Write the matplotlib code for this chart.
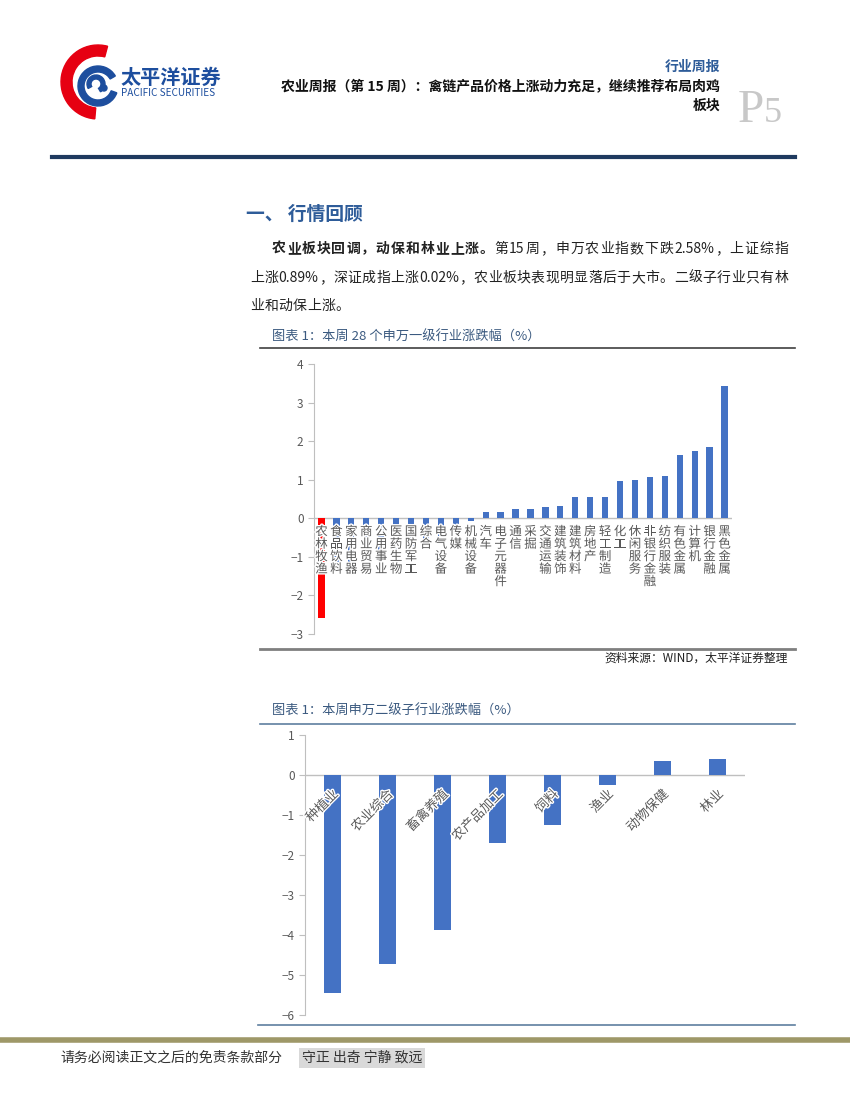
import matplotlib
matplotlib.use('Agg')
import matplotlib.pyplot as plt
from matplotlib.patches import Wedge, Circle
import matplotlib.patheffects as pe

plt.rcParams['font.family'] = ['Noto Sans CJK SC', 'DejaVu Sans']

# chart 1: 28 first-level SW industries, weekly change (%)
INDUSTRIES = ['农林牧渔', '食品饮料', '家用电器', '商业贸易', '公用事业', '医药生物',
              '国防军工', '综合', '电气设备', '传媒', '机械设备', '汽车', '电子元器件',
              '通信', '采掘', '交通运输', '建筑装饰', '建筑材料', '房地产', '轻工制造',
              '化工', '休闲服务', '非银行金融', '纺织服装', '有色金属', '计算机',
              '银行金融', '黑色金属']
CHANGES = [-2.58, -1.38, -1.25, -1.02, -0.95, -0.80, -0.72, -0.55, -0.45, -0.17,
           -0.06, 0.17, 0.17, 0.23, 0.23, 0.28, 0.33, 0.54, 0.54, 0.54,
           0.96, 0.98, 1.06, 1.09, 1.63, 1.74, 1.84, 3.42]

# chart 2: agriculture sub-industries, weekly change (%)
SUB_INDUSTRIES = ['种植业', '农业综合', '畜禽养殖', '农产品加工', '饲料', '渔业', '动物保健', '林业']
SUB_CHANGES = [-5.46, -4.73, -3.87, -1.69, -1.26, -0.25, 0.34, 0.39]

BLUE = '#4472C4'
RED = '#FF0000'
GREY_TXT = '#595959'
AXIS_GREY = '#BFBFBF'
TITLE_BLUE = '#3B5A80'

fig = plt.figure(figsize=(8.5, 11), dpi=100)

# page layer in pixel coordinates
page = fig.add_axes([0, 0, 1, 1])
page.set_xlim(0, 850)
page.set_ylim(1100, 0)
page.axis('off')

# ---- header ----
page.add_patch(Wedge((98, 82), 37, 95, 285, width=11, color='#E60012'))
page.add_patch(Wedge((98, 86), 20, 20, 330, width=6, color='#1D4E9E'))
page.add_patch(Wedge((96, 84), 9, 150, 420, width=4, color='#1D4E9E'))
page.add_patch(Circle((104, 88), 3, color='#1D4E9E'))
page.text(120, 77, '太平洋证券', fontsize=14.5, fontweight='bold', color='#1D4E9E', va='center')
page.text(121, 93, 'PACIFIC SECURITIES', fontsize=7.2, color='#1D4E9E', va='center')

page.text(720, 67, '行业周报', fontsize=10, fontweight='bold', color='#2E5C99', ha='right', va='center')
page.text(720, 87, '农业周报（第 15 周）：禽链产品价格上涨动力充足，继续推荐布局肉鸡',
          fontsize=10, fontweight='bold', color='#111111', ha='right', va='center')
page.text(720, 106, '板块', fontsize=10, fontweight='bold', color='#111111', ha='right', va='center')
page.text(738, 122, 'P', fontsize=34, family='Liberation Serif', color='#C8C8C8', va='baseline')
page.text(764, 122, '5', fontsize=26, family='Liberation Serif', color='#C8C8C8', va='baseline')
page.plot([52, 795], [157, 157], color='#1F3A5F', lw=3)

# ---- section text ----
page.text(246, 214, '一、 行情回顾', fontsize=13.5, fontweight='bold', color='#2E5C99', va='center')

renderer = fig.canvas.get_renderer()


def place_line(x0, x1, y, parts, gap=None):
    tokens = []
    for text, weight in parts:
        buf = ''
        for ch in text:
            if ord(ch) < 128:
                buf += ch
            else:
                if buf:
                    tokens.append((buf, weight))
                    buf = ''
                tokens.append((ch, weight))
        if buf:
            tokens.append((buf, weight))
    arts = [page.text(0, y, t, fontsize=10, fontweight=w, color='#222222', va='center')
            for t, w in tokens]
    widths = [a.get_window_extent(renderer).width for a in arts]
    if gap is None:
        gap = (x1 - x0 - sum(widths)) / (len(arts) - 1)
    x = x0
    for a, w in zip(arts, widths):
        a.set_x(x)
        x += w + gap
    return gap


place_line(272, 788, 249, [('农业板块回调，动保和林业上涨。', 'bold'),
                           ('第15周，申万农业指数下跌2.58%，上证综指', 'normal')])
g = place_line(250, 788, 278, [('上涨0.89%，深证成指上涨0.02%，农业板块表现明显落后于大市。二级子行业只有林', 'normal')])
place_line(250, None, 306, [('业和动保上涨。', 'normal')], gap=g)

# ---- chart 1 frame ----
page.text(272, 337, '图表 1：本周 28 个申万一级行业涨跌幅（%）', fontsize=9.5, color=TITLE_BLUE, va='center')
page.plot([260, 795], [348, 348], color='#404040', lw=1.2)
page.plot([260, 795], [649, 649], color='#7F7F7F', lw=2)
page.text(788, 658, '资料来源：WIND，太平洋证券整理', fontsize=8.5, style='italic',
          color='#222222', ha='right', va='center')

# ---- chart 2 frame ----
page.text(272, 711, '图表 1：本周申万二级子行业涨跌幅（%）', fontsize=9.5, color=TITLE_BLUE, va='center')
page.plot([260, 795], [724, 724], color='#5F7F9F', lw=1.2)
page.plot([258, 795], [1025, 1025], color='#5F7F9F', lw=1.2)

# ---- footer ----
page.plot([0, 850], [1040, 1040], color='#9E9868', lw=4)
page.text(60, 1058, '请务必阅读正文之后的免责条款部分', fontsize=10, color='#333333', va='center')
page.text(302, 1058, '守正 出奇 宁静 致远', fontsize=10, color='#333333', va='center',
          bbox=dict(facecolor='#D9D9D9', edgecolor='none', pad=2))

halo = [pe.withStroke(linewidth=2, foreground='white')]


def style_axis(ax):
    ax.patch.set_alpha(0)
    for s in ['top', 'right', 'bottom']:
        ax.spines[s].set_visible(False)
    ax.spines['left'].set_color(AXIS_GREY)
    ax.tick_params(axis='y', colors=AXIS_GREY, labelcolor=GREY_TXT, labelsize=8.5, length=4)
    ax.set_xticks([])
    ax.axhline(0, color=AXIS_GREY, lw=1, zorder=1)


# ---- chart 1 ----
ax1 = fig.add_axes([314 / 850, 1 - 634 / 1100, (732 - 314) / 850, 270 / 1100])
x1 = range(len(INDUSTRIES))
colors1 = [RED if name == '农林牧渔' else BLUE for name in INDUSTRIES]
ax1.bar(x1, CHANGES, width=0.42, color=colors1, zorder=2)
ax1.set_xlim(-0.5, len(INDUSTRIES) - 0.5)
ax1.set_ylim(-3, 4)
ax1.set_yticks(range(-3, 5))
style_axis(ax1)
for i, name in enumerate(INDUSTRIES):
    ax1.annotate('\n'.join(name), xy=(i, 0), xytext=(0, -7), textcoords='offset pixels',
                 ha='center', va='top', fontsize=9, color=GREY_TXT, linespacing=0.95,
                 path_effects=halo, zorder=3)

# ---- chart 2 ----
ax2 = fig.add_axes([305 / 850, 1 - 1015 / 1100, (745 - 305) / 850, 280 / 1100])
x2 = range(len(SUB_INDUSTRIES))
ax2.bar(x2, SUB_CHANGES, width=0.31, color=BLUE, zorder=2)
ax2.set_xlim(-0.5, len(SUB_INDUSTRIES) - 0.5)
ax2.set_ylim(-6, 1)
ax2.set_yticks(range(-6, 2))
style_axis(ax2)
for i, name in enumerate(SUB_INDUSTRIES):
    ax2.annotate(name, xy=(i, 0), xytext=(4, -17), textcoords='offset pixels',
                 ha='right', va='center', rotation=45, rotation_mode='anchor',
                 fontsize=9.5, color=GREY_TXT, path_effects=halo, zorder=3)

fig.savefig('out.png', dpi=100)
